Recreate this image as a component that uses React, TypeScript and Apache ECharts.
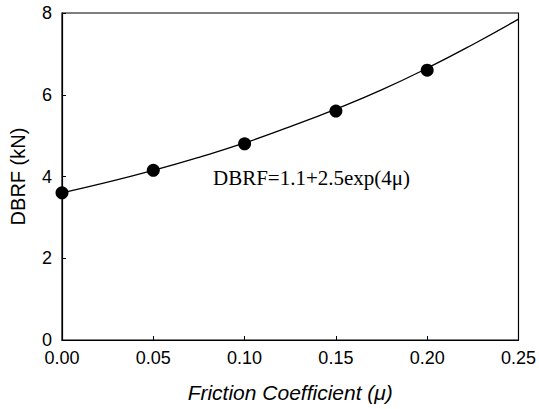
import React, { useEffect, useRef } from "react";
import * as echarts from "echarts";

const frictionValues = [0.0, 0.05, 0.1, 0.15, 0.2];
const dbrfValues = [3.6, 4.15, 4.8, 5.6, 6.6];

const fitX = [0.0, 0.025, 0.05, 0.075, 0.1, 0.125, 0.15, 0.175, 0.2, 0.225, 0.25];
const fitY = [3.6, 3.86, 4.15, 4.47, 4.82, 5.22, 5.65, 6.12, 6.65, 7.23, 7.85];

const xTicks = { min: 0, max: 0.25, interval: 0.05 };
const yTicks = { min: 0, max: 8, interval: 2 };

const xTitle = "Friction Coefficient (\u03bc)";
const yTitle = "DBRF (kN)";
const equation = "DBRF=1.1+2.5exp(4\u03bc)";

export default function App() {
  const ref = useRef<HTMLDivElement>(null);
  useEffect(() => {
    document.body.style.margin = "0";
    if (!ref.current) return;
    const chart = echarts.init(ref.current, undefined, { renderer: "svg" });
    const sans = "'Liberation Sans', Arial, sans-serif";
    chart.setOption({
      animation: false,
      backgroundColor: "#fff",
      grid: {
        left: 57,
        right: 20,
        top: 13,
        bottom: 69,
        show: true,
        borderColor: "#000",
        borderWidth: 1.2,
        backgroundColor: "transparent",
      },
      xAxis: {
        type: "value",
        min: xTicks.min,
        max: xTicks.max,
        interval: xTicks.interval,
        name: xTitle,
        nameLocation: "middle",
        nameGap: 42,
        nameTextStyle: { fontFamily: sans, fontSize: 21, fontStyle: "italic", color: "#000" },
        axisLine: { show: true, lineStyle: { color: "#000", width: 1.2 } },
        axisTick: { show: true, inside: true, length: 4, lineStyle: { color: "#000" } },
        axisLabel: {
          margin: 9,
          fontFamily: sans,
          fontSize: 18,
          color: "#000",
          formatter: (v: number) => v.toFixed(2),
        },
        splitLine: { show: false },
      },
      yAxis: {
        type: "value",
        min: yTicks.min,
        max: yTicks.max,
        interval: yTicks.interval,
        name: yTitle,
        nameLocation: "middle",
        nameGap: 34,
        nameTextStyle: { fontFamily: sans, fontSize: 20, color: "#000" },
        axisLine: { show: true, lineStyle: { color: "#000", width: 1.2 } },
        axisTick: { show: true, inside: true, length: 4, lineStyle: { color: "#000" } },
        axisLabel: { margin: 10, fontFamily: sans, fontSize: 18, color: "#000" },
        splitLine: { show: false },
      },
      graphic: [
        {
          type: "text",
          left: 213,
          top: 167,
          style: {
            text: equation,
            fontFamily: "'Liberation Serif', 'Times New Roman', serif",
            fontSize: 21,
            fill: "#000",
          },
        },
      ],
      series: [
        {
          type: "line",
          data: fitX.map((x, i) => [x, fitY[i]]),
          smooth: true,
          showSymbol: false,
          symbol: "none",
          lineStyle: { color: "#000", width: 1.3 },
          z: 2,
        },
        {
          type: "scatter",
          data: frictionValues.map((x, i) => [x, dbrfValues[i]]),
          symbol: "circle",
          symbolSize: 13,
          itemStyle: { color: "#000", opacity: 1 },
          z: 3,
        },
      ],
    });
    return () => chart.dispose();
  }, []);
  return <div ref={ref} style={{ width: 539, height: 409 }} />;
}
